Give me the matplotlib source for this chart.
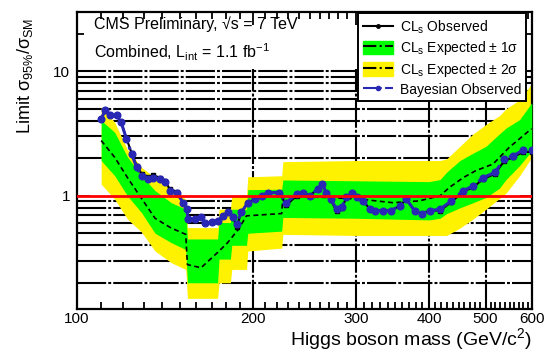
import matplotlib
matplotlib.use("Agg")
import matplotlib.pyplot as plt
from matplotlib.lines import Line2D
from matplotlib.patches import Patch
from matplotlib.ticker import FixedLocator, NullFormatter

plt.rcParams['font.family'] = ['Liberation Sans', 'DejaVu Sans']
plt.rcParams['mathtext.default'] = 'regular'

# ---- data ----
obs_mass = [110, 111.7, 114, 117, 119, 121.5, 124, 126.5, 129, 132.5, 135, 138.7, 141.4, 144, 148,
            152, 154, 155, 159, 163, 165.5, 170, 174, 178, 181.5, 185, 187.5, 191, 196, 201.5,
            207, 212, 222, 228, 237.6, 244, 250, 258, 263, 267, 272, 278, 284, 289, 295,
            301, 309, 317, 323, 334, 344, 357, 366, 378, 389, 401, 418, 437, 458, 476,
            495, 519, 538, 558, 580, 600]
bayes_obs = [4.15, 4.85, 4.42, 4.42, 3.9, 2.87, 2.17, 1.69, 1.45, 1.36, 1.40, 1.36, 1.28, 1.10, 1.06,
             0.88, 0.78, 0.65, 0.65, 0.67, 0.61, 0.62, 0.63, 0.69, 0.735, 0.67, 0.59, 0.735, 0.88, 0.94,
             1.0, 1.06, 1.06, 0.88, 1.03, 1.06, 1.0, 1.13, 1.24, 1.06, 0.94, 0.78, 0.81, 0.97, 1.06,
             0.97, 0.91, 0.78, 0.76, 0.76, 0.76, 0.83, 0.94, 0.76, 0.72, 0.76, 0.78, 0.91, 1.1, 1.2,
             1.40, 1.54, 1.98, 2.1, 2.33, 2.33]
cls_obs = [4.15, 4.85, 4.42, 4.42, 3.9, 2.9, 2.2, 1.75, 1.50, 1.42, 1.46, 1.40, 1.32, 1.14, 1.08,
           0.88, 0.78, 0.65, 0.65, 0.67, 0.61, 0.62, 0.63, 0.69, 0.735, 0.67, 0.56, 0.735, 0.88, 0.94,
           1.0, 1.06, 1.06, 0.84, 1.0, 1.06, 1.0, 1.13, 1.24, 1.06, 0.92, 0.75, 0.80, 0.97, 1.06,
           0.97, 0.91, 0.78, 0.76, 0.76, 0.76, 0.83, 0.94, 0.76, 0.72, 0.76, 0.76, 0.89, 1.08, 1.17,
           1.36, 1.50, 1.90, 2.05, 2.25, 2.25]

exp_mass = [110, 116, 122, 129, 136, 145, 153.5, 154.5, 163, 174, 181, 189, 195, 214, 224,
            225, 236, 267, 305, 347, 385, 418, 434, 458, 481, 515, 549, 594, 600]
exp_med = [2.78, 2.04, 1.40, 0.95, 0.66, 0.55, 0.49, 0.28, 0.264, 0.35, 0.42, 0.54, 0.69, 0.71, 0.72,
           0.97, 0.98, 0.97, 0.94, 0.88, 0.91, 1.0, 1.17, 1.40, 1.59, 1.8, 2.45, 3.34, 3.45]

band_mass = [110, 116, 122, 129, 136, 145, 153.5, 154.5, 174, 175, 183, 184, 195, 196, 224,
             225, 300, 400, 418, 429, 452, 476, 501, 528, 542, 572, 600]
up2 = [5.15, 3.9, 2.35, 1.69, 1.40, 1.13, 0.94, 0.555, 0.555, 0.78, 0.78, 1.0, 1.0, 1.42, 1.45,
       1.88, 1.92, 1.92, 1.92, 1.98, 2.5, 3.14, 3.75, 4.4, 5.0, 5.9, 8.0]
up1 = [4.03, 3.24, 2.05, 1.45, 1.10, 0.88, 0.78, 0.45, 0.45, 0.61, 0.61, 0.78, 0.78, 1.12, 1.13,
       1.34, 1.32, 1.30, 1.35, 1.55, 1.92, 2.2, 2.5, 3.14, 3.5, 4.1, 5.6]
dn1 = [1.92, 1.45, 1.0, 0.73, 0.50, 0.42, 0.37, 0.20, 0.20, 0.31, 0.31, 0.40, 0.40, 0.50, 0.52,
       0.67, 0.66, 0.64, 0.66, 0.72, 0.80, 0.88, 0.97, 1.15, 1.35, 1.75, 2.3]
dn2 = [1.24, 0.94, 0.65, 0.51, 0.36, 0.29, 0.256, 0.15, 0.15, 0.20, 0.20, 0.256, 0.256, 0.36, 0.38,
       0.49, 0.48, 0.48, 0.48, 0.48, 0.55, 0.65, 0.78, 0.95, 1.05, 1.45, 2.04]

grid_y = [0.2, 0.3, 0.4, 0.5, 0.6, 0.7, 0.8, 0.9, 2, 3, 4, 5, 6, 7, 8, 9, 10]
grid_x = [200, 300, 400, 500]
xticks = [100, 200, 300, 400, 500, 600]

fig = plt.figure(figsize=(5.46, 3.52), dpi=100)
ax = fig.add_axes([0.141, 0.122, 0.833, 0.844])
ax.set_xscale('log')
ax.set_yscale('log')
ax.set_xlim(100, 600)
ax.set_ylim(0.123, 30)

gridstyle = dict(color='black', lw=1.5, linestyle=(0, (14, 1, 1.4, 1)), zorder=1)
for g in grid_y:
    ax.axhline(g, **gridstyle)
ax.vlines(grid_x, 0.123, 10.5, **gridstyle)

yellow = '#fff200'
green = '#00ff00'
ax.fill_between(band_mass, dn2, up2, color=yellow, lw=0, zorder=2)
ax.fill_between(band_mass, dn1, up1, color=green, lw=0, zorder=3)
ax.plot(exp_mass, exp_med, color='black', lw=1.2, linestyle=(0, (3, 2)), zorder=4)

ax.plot(obs_mass, cls_obs, color='black', lw=1.5, marker='s', ms=3, zorder=5)
blue = '#2828b4'
ax.plot(obs_mass, bayes_obs, color=blue, lw=2.2, linestyle='-.', marker='o', ms=4.8, zorder=6)
ax.axhline(1, color='red', lw=2, zorder=7)

# ticks
ax.xaxis.set_major_locator(FixedLocator(xticks))
ax.xaxis.set_minor_locator(FixedLocator([m for m in range(110, 600, 10) if m % 100]))
ax.xaxis.set_major_formatter(plt.FixedFormatter([str(t) for t in xticks]))
ax.xaxis.set_minor_formatter(NullFormatter())
ax.yaxis.set_major_locator(FixedLocator([1, 10]))
ax.yaxis.set_minor_locator(FixedLocator([0.2, 0.3, 0.4, 0.5, 0.6, 0.7, 0.8, 0.9,
                                         2, 3, 4, 5, 6, 7, 8, 9, 20]))
ax.yaxis.set_major_formatter(plt.FixedFormatter(['1', '10']))
ax.yaxis.set_minor_formatter(NullFormatter())
ax.tick_params(which='both', direction='in', top=True, right=True, width=1.3, labelsize=11)
ax.tick_params(which='major', length=9)
ax.tick_params(which='minor', length=5)
ax.tick_params(axis='x', pad=2)
ax.tick_params(axis='y', pad=5)
for s in ax.spines.values():
    s.set_linewidth(1.6)

ax.text(0.038, 0.985, 'CMS Preliminary, \u221as = 7 TeV', transform=ax.transAxes,
        fontsize=11.5, va='top', ha='left')
ax.text(0.038, 0.9, 'Combined, L$_{int}$ = 1.1 fb$^{-1}$', transform=ax.transAxes,
        fontsize=11.5, va='top', ha='left')

fig.text(0.975, 0.0, 'Higgs boson mass (GeV/c$^{2}$)', ha='right', va='bottom', fontsize=14)
fig.text(0.045, 0.785, 'Limit \u03c3$_{95\\%}$/\u03c3$_{SM}$', rotation=90, ha='center', va='center',
         fontsize=13)

handles = [
    Line2D([], [], color='black', lw=1.5, marker='o', ms=2.5),
    (Patch(color=green), Line2D([], [], color='black', lw=1.5, linestyle='-.')),
    (Patch(color=yellow), Line2D([], [], color='black', lw=1.5, linestyle='-.')),
    Line2D([], [], color=blue, lw=1.5, linestyle='-.', marker='o', ms=3),
]
labels = ['CL$_s$ Observed', 'CL$_s$ Expected \u00b1 1\u03c3',
          'CL$_s$ Expected \u00b1 2\u03c3', 'Bayesian Observed']
leg = ax.legend(handles, labels, loc='upper right', bbox_to_anchor=(0.988, 0.995),
                fontsize=10, frameon=True, fancybox=False, edgecolor='black',
                framealpha=1, handlelength=2.2, handleheight=1.1, labelspacing=0.25,
                borderpad=0.35, handletextpad=0.5, borderaxespad=0)
leg.get_frame().set_linewidth(1.4)
leg.set_zorder(10)

fig.savefig('out.png', dpi=100)
